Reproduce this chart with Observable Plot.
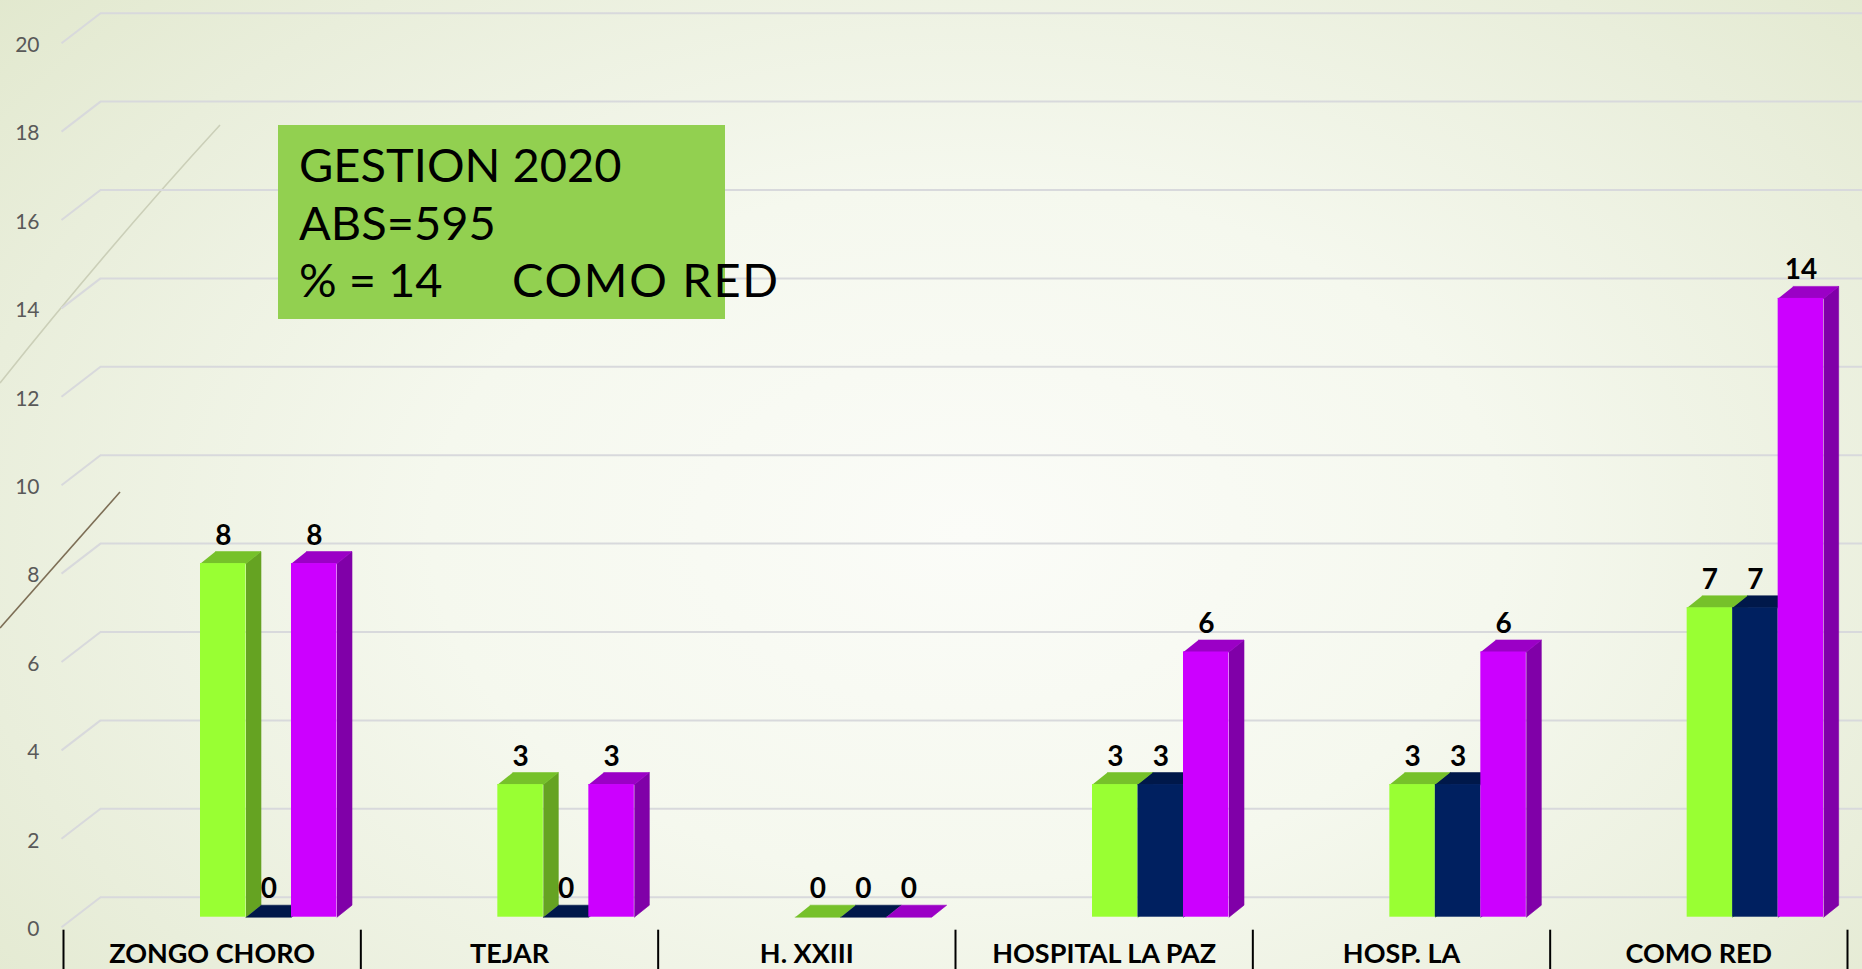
<!DOCTYPE html>
<html>
<head>
<meta charset="utf-8">
<script src="https://cdn.jsdelivr.net/npm/d3@7"></script>
<script src="https://cdn.jsdelivr.net/npm/@observablehq/plot@0.6"></script>
<style>
  html, body { margin: 0; padding: 0; }
  body { width: 1862px; height: 969px; overflow: hidden; }
  #stage {
    position: relative; width: 1862px; height: 969px; overflow: hidden;
    background: radial-gradient(ellipse 72% 90% at 52% 55%, #fbfcf8 0%, #f5f8ee 40%, #e9eedb 75%, #e0e7cb 100%);
  }
  #deco, #chart, #note { position: absolute; left: 0; top: 0; }
  #chart svg { overflow: visible; }
</style>
</head>
<body>
<div id="stage">
  <svg id="deco" width="1862" height="969">
    <path d="M220,125 Q110,245 0,383" fill="none" stroke="#cbcfb8" stroke-width="1.6"/>
    <path d="M120,492 L0,628" fill="none" stroke="#7d6e55" stroke-width="1.6"/>
  </svg>
  <div id="chart"></div>
  <svg id="note" width="1862" height="969">
    <rect x="278" y="125" width="447" height="194" fill="#92d050"/>
    <g font-family="Lato, 'Open Sans', sans-serif" font-size="47" fill="#000">
      <text x="299" y="182">GESTION 2020</text>
      <text x="299" y="240">ABS=595</text>
      <text x="299" y="297">% = 14</text>
      <text x="512" y="297" textLength="266" lengthAdjust="spacing">COMO RED</text>
    </g>
  </svg>
</div>
<script>
// ---- data ----
const categories = ["ZONGO CHORO", "TEJAR", "H. XXIII", "HOSPITAL LA PAZ", "HOSP. LA", "COMO RED"];
const seriesGreen  = [8, 3, 0, 3, 3, 7];
const seriesNavy   = [0, 0, 0, 3, 3, 7];
const seriesPurple = [8, 3, 0, 6, 6, 14];
const yTicks = [0, 2, 4, 6, 8, 10, 12, 14, 16, 18, 20];

// ---- styling ----
const frontColors = ["#99ff33", "#002060", "#cc00ff"];
const sideColors  = ["#65a322", "#001848", "#8000a8"];
const topColors   = ["#76c12a", "#00184a", "#9b00c6"];

const W = 1862, H = 969;
const mL = 63, mR = 15, mT = 32.7, mB = 52.3;
const PX_X = (W - mL - mR) / categories.length;   // px per category
const PX_Y = (H - mT - mB) / 20;                  // px per unit
const barOff = 137 / PX_X, barW = 45.5 / PX_X;
const dX = 15 / PX_X, dY = 12 / PX_Y;

const allSeries = [seriesGreen, seriesNavy, seriesPurple];
const table = [];
categories.forEach((c, i) => {
  allSeries.forEach((s, k) => {
    const x1 = i + barOff + k * barW;
    table.push({cat: c, i, k, value: s[i], x1, x2: x1 + barW, xc: x1 + barW / 2, fill: frontColors[k]});
  });
});
const polys = [];
table.forEach((d, j) => {
  const v = d.value;
  if (v > 0) {
    [[d.x2, 0], [d.x2 + dX, dY], [d.x2 + dX, v + dY], [d.x2, v]]
      .forEach(p => polys.push({id: "s" + j, x: p[0], y: p[1], fill: sideColors[d.k]}));
  }
  [[d.x1, v], [d.x2, v], [d.x2 + dX, v + dY], [d.x1 + dX, v + dY]]
    .forEach(p => polys.push({id: "t" + j, x: p[0], y: p[1], fill: topColors[d.k]}));
});

const grid = "#d8d9dc";
const chart = Plot.plot({
  width: W, height: H,
  marginLeft: mL, marginRight: mR, marginTop: mT, marginBottom: mB,
  x: {domain: [0, categories.length], axis: null},
  y: {domain: [0, 20], axis: null},
  color: {type: "identity"},
  style: {background: "transparent", overflow: "visible"},
  marks: [
    Plot.ruleY(yTicks, {y: d => d, dy: -20, x1: () => 37 / PX_X, x2: () => categories.length + 0.1, stroke: grid, strokeWidth: 2}),
    Plot.link(yTicks, {x1: () => -2 / PX_X, y1: d => d - 10 / PX_Y, x2: () => 37 / PX_X, y2: d => d + 20 / PX_Y, stroke: grid, strokeWidth: 2}),
    Plot.text(yTicks, {y: d => d, frameAnchor: "left", dx: -24, dy: 12, text: d => String(d), textAnchor: "end",
      fill: "#595959", fontSize: 21, fontFamily: "Lato, sans-serif"}),
    Plot.line(polys, {x: "x", y: "y", z: "id", fill: "fill", stroke: "fill", strokeWidth: 0.6}),
    Plot.rect(table, {x1: "x1", x2: "x2", y1: () => 0, y2: "value", fill: "fill"}),
    Plot.text(table, {x: "xc", y: "value", dy: -19, lineAnchor: "bottom", text: d => String(d.value),
      fontSize: 28, fontWeight: "bold", fontFamily: "Lato, sans-serif", fill: "#000"}),
    Plot.ruleX(d3.range(categories.length + 1), {x: d => d, y1: () => -13 / PX_Y, y2: () => -60 / PX_Y, stroke: "#000", strokeWidth: 2}),
    Plot.text(categories, {x: (d, i) => i + 0.5, y: () => 0, dy: 26.3, lineAnchor: "top", text: d => d,
      fontSize: 27, fontWeight: "bold", fontFamily: "Lato, sans-serif", fill: "#000"})
  ]
});
document.getElementById("chart").appendChild(chart);
</script>
</body>
</html>
